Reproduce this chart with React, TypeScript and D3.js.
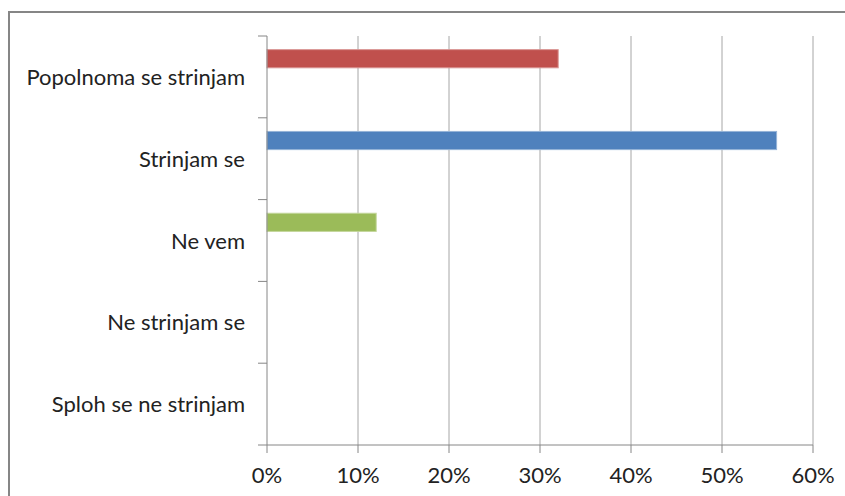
import React from "react";
import * as d3 from "d3";

const categories = [
  "Popolnoma se strinjam",
  "Strinjam se",
  "Ne vem",
  "Ne strinjam se",
  "Sploh se ne strinjam",
];
const values = [0.32, 0.56, 0.12, 0, 0];
const barColors = ["#C0504D", "#4F81BD", "#9BBB59", "#8064A2", "#4BACC6"];
const barEdges = ["#D99694", "#95B3D7", "#C3D69B", "#B3A2C7", "#93CDDD"];
const xTicks = [0, 0.1, 0.2, 0.3, 0.4, 0.5, 0.6];

const W = 845;
const H = 496;
const plot = { left: 267, right: 813, top: 36, bottom: 445 };
const FONT = "Lato, 'Open Sans', sans-serif";

export default function App() {
  const x = d3.scaleLinear().domain([0, 0.6]).range([plot.left, plot.right]);
  const y = d3
    .scaleBand<string>()
    .domain(categories)
    .range([plot.top, plot.bottom])
    .paddingInner(0)
    .paddingOuter(0);
  // three series slots per category, Excel-style gap width of 150%
  const slot = d3
    .scaleBand<number>()
    .domain([0, 1, 2])
    .range([0, y.bandwidth()])
    .paddingInner(0)
    .paddingOuter(0.75);

  const boundaries = d3.range(categories.length + 1).map(
    (i) => plot.top + i * y.step()
  );
  const fmt = d3.format(".0%");
  const axisColor = "#868686";
  const gridColor = "#A6A6A6";

  return (
    <svg
      width={W}
      height={H}
      style={{ position: "absolute", left: 0, top: 0, background: "#fff" }}
    >
      <rect
        x={9}
        y={12}
        width={W + 20}
        height={H + 20}
        fill="#fff"
        stroke={axisColor}
        strokeWidth={2}
      />

      {/* vertical gridlines */}
      {xTicks.slice(1).map((t) => (
        <line
          key={`g${t}`}
          x1={x(t)}
          x2={x(t)}
          y1={plot.top}
          y2={plot.bottom}
          stroke={gridColor}
          strokeWidth={1}
        />
      ))}

      {/* bars */}
      {categories.map((c, i) =>
        values[i] > 0 ? (
          <rect
            key={c}
            x={x(0)}
            y={(y(c) as number) + (slot(0) as number)}
            width={x(values[i]) - x(0)}
            height={slot.bandwidth()}
            fill={barColors[i]}
            stroke={barEdges[i]}
            strokeWidth={1}
          />
        ) : null
      )}

      {/* category axis */}
      <line
        x1={plot.left}
        x2={plot.left}
        y1={plot.top}
        y2={plot.bottom}
        stroke={axisColor}
        strokeWidth={1}
      />
      {boundaries.map((b, i) => (
        <line
          key={`yt${i}`}
          x1={plot.left - 9}
          x2={plot.left}
          y1={b}
          y2={b}
          stroke={axisColor}
          strokeWidth={1}
        />
      ))}

      {/* value axis */}
      <line
        x1={plot.left}
        x2={plot.right}
        y1={plot.bottom}
        y2={plot.bottom}
        stroke={axisColor}
        strokeWidth={1}
      />
      {xTicks.map((t) => (
        <line
          key={`xt${t}`}
          x1={x(t)}
          x2={x(t)}
          y1={plot.bottom}
          y2={plot.bottom + 8}
          stroke={axisColor}
          strokeWidth={1}
        />
      ))}
      {xTicks.map((t) => (
        <text
          key={`xl${t}`}
          x={x(t)}
          y={483}
          textAnchor="middle"
          fontFamily={FONT}
          fontSize={22}
          fill="#222"
        >
          {fmt(t)}
        </text>
      ))}

      {categories.map((c) => (
        <text
          key={`yl${c}`}
          x={245}
          y={(y(c) as number) + y.bandwidth() / 2 + 8}
          textAnchor="end"
          fontFamily={FONT}
          fontSize={22}
          fill="#222"
        >
          {c}
        </text>
      ))}
    </svg>
  );
}
